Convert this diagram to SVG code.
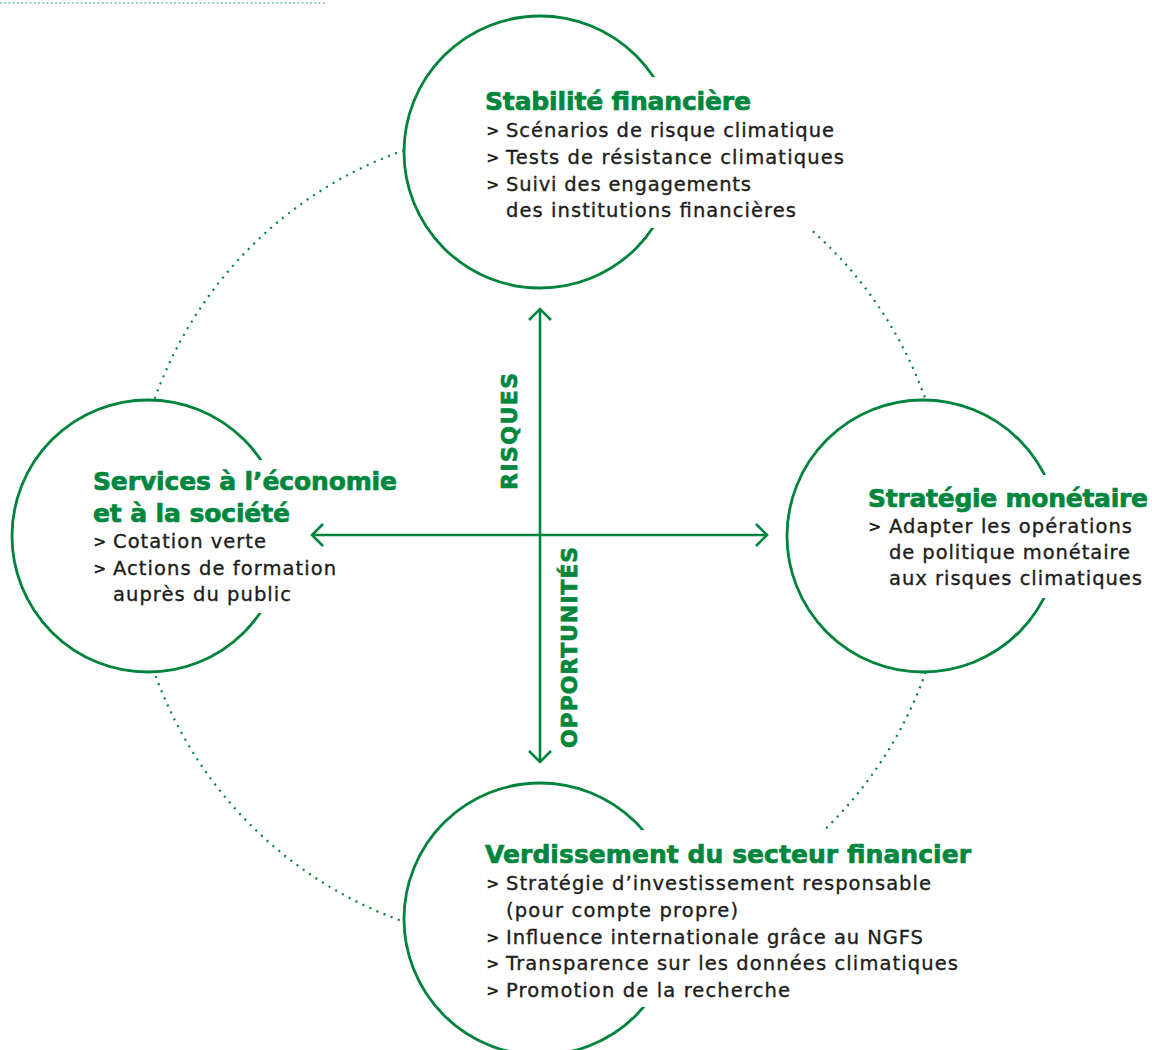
<svg xmlns="http://www.w3.org/2000/svg" width="1152" height="1050" viewBox="0 0 1152 1050">
<defs>
<style>
.ring{fill:none;stroke:#00843d;stroke-width:2.2;stroke-dasharray:2 5.7}
.node{fill:#fff;stroke:#00843d;stroke-width:2.8}
.mask{fill:#fff}
.t{font-family:"DejaVu Sans","Liberation Sans",sans-serif;font-weight:700;font-size:25px;fill:#00873d;stroke:#00873d;stroke-width:0.7}
.b{font-family:"DejaVu Sans","Liberation Sans",sans-serif;font-weight:400;font-size:19.5px;fill:#1d1d1b;stroke:#1d1d1b;stroke-width:0.35}
.g{font-family:"DejaVu Sans","Liberation Sans",sans-serif;font-weight:700;font-size:16px;fill:#1d1d1b}
.ax{font-family:"DejaVu Sans","Liberation Sans",sans-serif;font-weight:700;font-size:22px;fill:#00873d;stroke:#00873d;stroke-width:0.7}
.ln{fill:none;stroke:#00843d;stroke-width:2.6}
</style>
</defs>
<rect width="1152" height="1050" fill="#fff"/>
<line x1="0" y1="3" x2="327" y2="3" stroke="#00843d" stroke-width="1.3" stroke-dasharray="1.6 2.65" opacity="0.6"/>
<g id="ring"><circle class="ring" cx="540" cy="536" r="409"/></g>

<g id="node-stabilite">
<circle class="node" cx="540" cy="152" r="136"/>
<rect class="mask" x="478" y="77" width="372" height="151"/>
<text class="t" x="485" y="110" textLength="266">Stabilité financière</text>
<text class="g" x="486" y="136">&gt;</text>
<text class="b" x="506" y="137" textLength="328">Scénarios de risque climatique</text>
<text class="g" x="486" y="163">&gt;</text>
<text class="b" x="506" y="164" textLength="338">Tests de résistance climatiques</text>
<text class="g" x="486" y="190">&gt;</text>
<text class="b" x="506" y="191" textLength="245">Suivi des engagements</text>
<text class="b" x="506" y="217" textLength="290">des institutions financières</text>
</g>

<g id="node-services">
<circle class="node" cx="148" cy="536" r="136"/>
<rect class="mask" x="88" y="460" width="316" height="153"/>
<text class="t" x="93" y="490" textLength="304">Services à l’économie</text>
<text class="t" x="93" y="522" textLength="197">et à la société</text>
<text class="g" x="93" y="547">&gt;</text>
<text class="b" x="113" y="548" textLength="153">Cotation verte</text>
<text class="g" x="93" y="574">&gt;</text>
<text class="b" x="113" y="575" textLength="223">Actions de formation</text>
<text class="b" x="113" y="601" textLength="178">auprès du public</text>
</g>

<g id="node-strategie">
<circle class="node" cx="923" cy="536" r="136"/>
<rect class="mask" x="862" y="475" width="290" height="123"/>
<text class="t" x="868" y="507" textLength="280">Stratégie monétaire</text>
<text class="g" x="868" y="532">&gt;</text>
<text class="b" x="889" y="533" textLength="243">Adapter les opérations</text>
<text class="b" x="889" y="559" textLength="241">de politique monétaire</text>
<text class="b" x="889" y="585" textLength="253">aux risques climatiques</text>
</g>

<g id="node-verdissement">
<circle class="node" cx="540" cy="919" r="136"/>
<rect class="mask" x="478" y="830" width="500" height="177"/>
<text class="t" x="485" y="863" textLength="486">Verdissement du secteur financier</text>
<text class="g" x="486" y="889">&gt;</text>
<text class="b" x="506" y="890" textLength="425">Stratégie d’investissement responsable</text>
<text class="b" x="506" y="917" textLength="232">(pour compte propre)</text>
<text class="g" x="486" y="943">&gt;</text>
<text class="b" x="506" y="944" textLength="417">Influence internationale grâce au NGFS</text>
<text class="g" x="486" y="969">&gt;</text>
<text class="b" x="506" y="970" textLength="452">Transparence sur les données climatiques</text>
<text class="g" x="486" y="996">&gt;</text>
<text class="b" x="506" y="997" textLength="284">Promotion de la recherche</text>
</g>

<g id="connectors">
<path class="ln" d="M540 309 V762 M312 535 H767"/>
<polyline class="ln" points="529,320 540,309 551,320"/>
<polyline class="ln" points="529,751 540,762 551,751"/>
<polyline class="ln" points="323,524 312,535 323,546"/>
<polyline class="ln" points="756,524 767,535 756,546"/>
<text class="ax" transform="translate(517,490) rotate(-90)" textLength="117">RISQUES</text>
<text class="ax" transform="translate(577,748) rotate(-90)" textLength="201">OPPORTUNITÉS</text>
</g>
</svg>
